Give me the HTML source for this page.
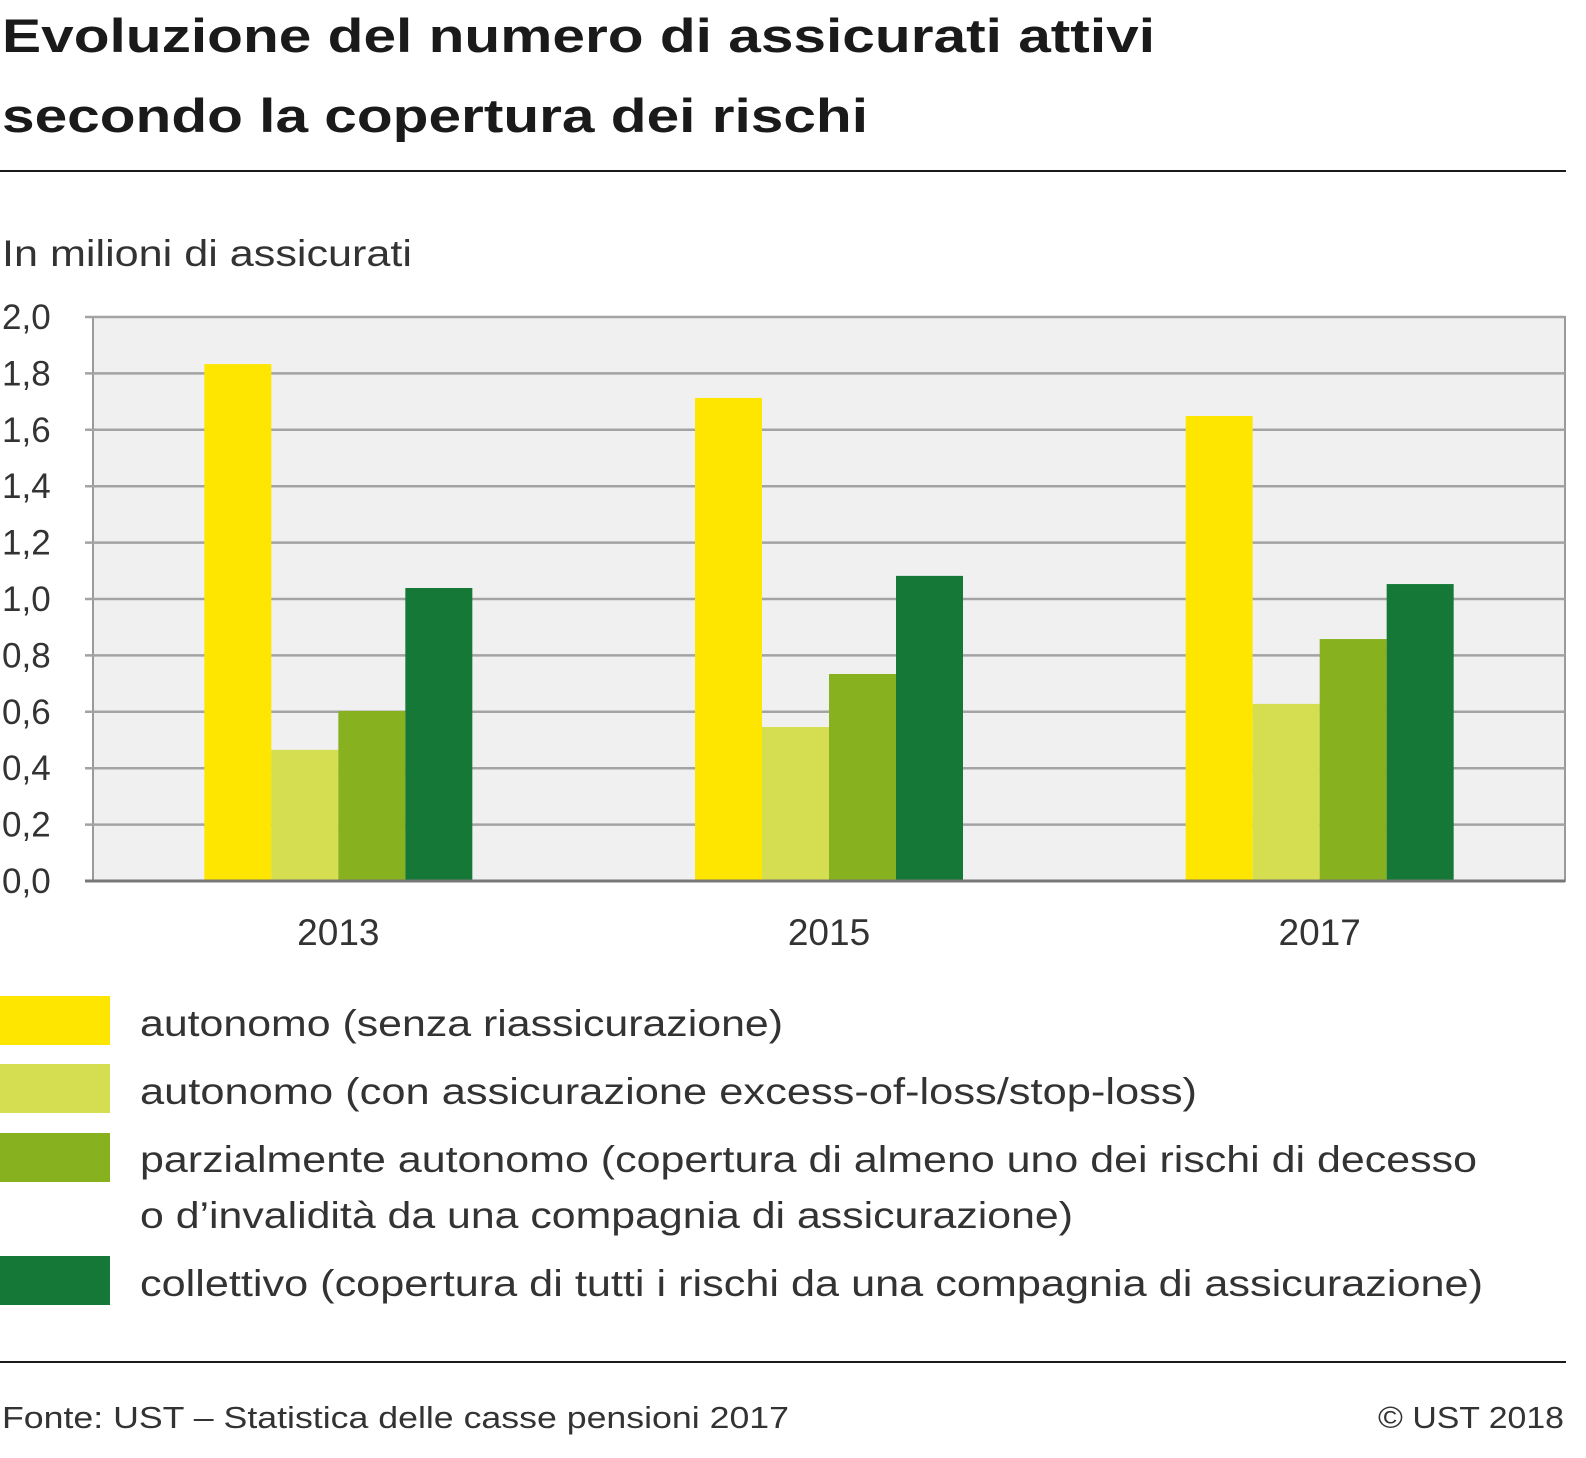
<!DOCTYPE html>
<html><head><meta charset="utf-8"><style>
body{margin:0;background:#fff;width:1586px;height:1453px;overflow:hidden;font-family:"Liberation Sans",sans-serif;color:#1a1a1a}
</style></head><body>
<svg width="1586" height="1453" xmlns="http://www.w3.org/2000/svg" font-family="Liberation Sans, sans-serif">
<text x="2" y="52" font-size="47" font-weight="bold" fill="#1a1a1a" textLength="1153" lengthAdjust="spacingAndGlyphs">Evoluzione del numero di assicurati attivi</text>
<text x="2" y="132" font-size="47" font-weight="bold" fill="#1a1a1a" textLength="866" lengthAdjust="spacingAndGlyphs">secondo la copertura dei rischi</text>
<rect x="0" y="170" width="1566" height="2" fill="#1a1a1a"/>
<text x="2" y="266" font-size="37" fill="#333" textLength="410" lengthAdjust="spacingAndGlyphs">In milioni di assicurati</text>
<g id="chart"></g>
<g font-size="37" fill="#333">
<rect x="0" y="996" width="110" height="49" fill="#ffe600"/>
<text x="140" y="1036" textLength="643" lengthAdjust="spacingAndGlyphs">autonomo (senza riassicurazione)</text>
<rect x="0" y="1064" width="110" height="49" fill="#d5dd50"/>
<text x="140" y="1104" textLength="1057" lengthAdjust="spacingAndGlyphs">autonomo (con assicurazione excess-of-loss/stop-loss)</text>
<rect x="0" y="1133" width="110" height="49" fill="#88b11f"/>
<text x="140" y="1172" textLength="1337" lengthAdjust="spacingAndGlyphs">parzialmente autonomo (copertura di almeno uno dei rischi di decesso</text>
<text x="140" y="1228" textLength="933" lengthAdjust="spacingAndGlyphs">o d’invalidità da una compagnia di assicurazione)</text>
<rect x="0" y="1256" width="110" height="49" fill="#157837"/>
<text x="140" y="1296" textLength="1343" lengthAdjust="spacingAndGlyphs">collettivo (copertura di tutti i rischi da una compagnia di assicurazione)</text>
</g>
<rect x="0" y="1361" width="1566" height="2" fill="#1a1a1a"/>
<text x="2" y="1428" font-size="31" fill="#333" textLength="787" lengthAdjust="spacingAndGlyphs">Fonte: UST – Statistica delle casse pensioni 2017</text>
<text x="1378" y="1428" font-size="31" fill="#333" textLength="186" lengthAdjust="spacingAndGlyphs">© UST 2018</text>
</svg>
<script>
const categories=["2013","2015","2017"];
const autonomo=[1.833,1.713,1.649];
const excessLoss=[0.465,0.546,0.628];
const parziale=[0.603,0.734,0.858];
const collettivo=[1.039,1.082,1.053];
const yTicks=["0,0","0,2","0,4","0,6","0,8","1,0","1,2","1,4","1,6","1,8","2,0"];
const series=[autonomo,excessLoss,parziale,collettivo];
const seriesNames=["autonomo","excess","parziale","collettivo"];
const colors=["#ffe600","#d5dd50","#88b11f","#157837"];
const NS="http://www.w3.org/2000/svg";
const g=document.getElementById('chart');
const X0=93,X1=1565,Y0=881,Y1=317,YMAX=2.0;
const y=v=>Y0-(v/YMAX)*(Y0-Y1);
const band=(X1-X0)/categories.length;
const xc=i=>X0+band*(i+0.5);
const BW=67;
function mk(t,a){const e=document.createElementNS(NS,t);for(const k in a)e.setAttribute(k,a[k]);g.appendChild(e);return e;}
let r=mk('rect',{x:X0,y:Y1,width:X1-X0,height:Y0-Y1,fill:'#f0f0f0',stroke:'#9a9a9a','stroke-width':2});


yTicks.forEach((t,i)=>{const v=i*0.2;const yy=y(v);
 let l=mk('line',{x1:X0-8,x2:X1,y1:yy,y2:yy,stroke:i==0?'#777':'#a3a3a3','stroke-width':i==0?3:2.5});
 
 
 let tx=mk('text',{x:2,y:yy+12,'font-size':35,fill:'#333'});tx.textContent=t;
 
 
});
categories.forEach((c,i)=>{
 series.forEach((s,j)=>{
  const x=xc(i)-2*BW+j*BW;
  let b=mk('rect',{x:x,y:y(s[i]),width:BW,height:y(0)-y(s[i]),fill:colors[j]});
  
  
 });
 let tx=mk('text',{x:xc(i),y:945,'font-size':37,fill:'#333','text-anchor':'middle'});tx.textContent=c;
 
 
});
let ax=mk('line',{x1:X0-8,x2:X1,y1:Y0,y2:Y0,stroke:'#777','stroke-width':3});


</script>
</body></html>
